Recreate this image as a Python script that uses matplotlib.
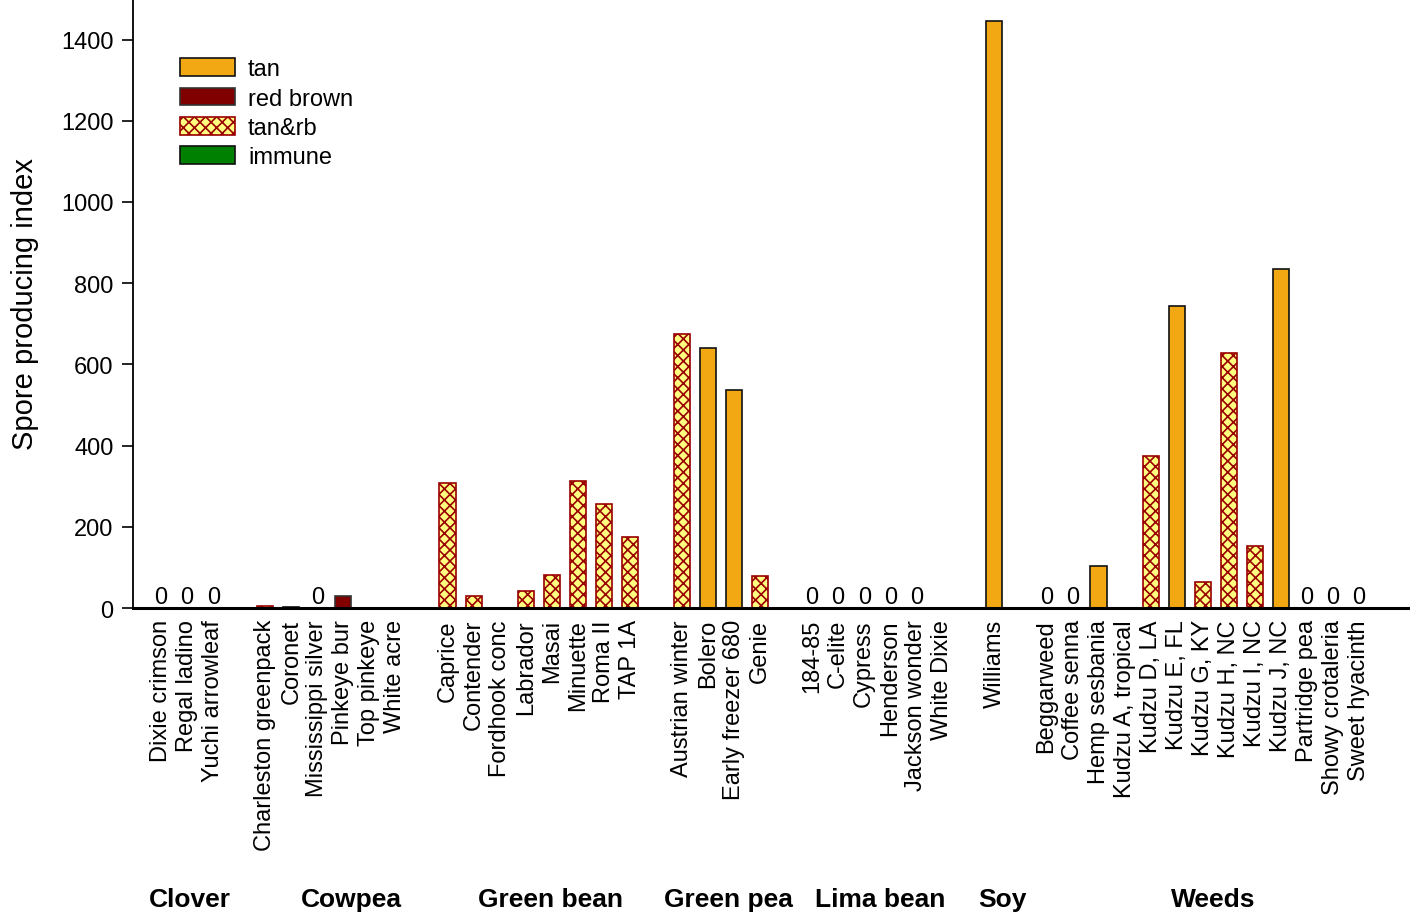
import numpy as np
import matplotlib
matplotlib.use("Agg")
import matplotlib.pyplot as plt
from matplotlib.patches import Patch
from matplotlib.transforms import blended_transform_factory

plt.rcParams['font.family'] = ['Liberation Sans', 'DejaVu Sans']
plt.rcParams['hatch.linewidth'] = 1.2

# ---------------- data ----------------
groups = ["Clover", "Cowpea", "Green bean", "Green pea", "Lima bean", "Soy", "Weeds"]

clover_names = ["Dixie crimson", "Regal ladino", "Yuchi arrowleaf"]
clover_vals = [0, 0, 0]
clover_type = ["zero", "zero", "zero"]

cowpea_names = ["Charleston greenpack", "Coronet", "Mississippi silver", "Pinkeye bur",
                "Top pinkeye", "White acre"]
cowpea_vals = [6, 2, 0, 30, np.nan, np.nan]
cowpea_type = ["tan&rb", "tan", "zero", "red brown", "none", "none"]

greenbean_names = ["Caprice", "Contender", "Fordhook conc", "Labrador", "Masai",
                   "Minuette", "Roma II", "TAP 1A"]
greenbean_vals = [309, 29, np.nan, 43, 81, 314, 256, 176]
greenbean_type = ["tan&rb", "tan&rb", "none", "tan&rb", "tan&rb", "tan&rb", "tan&rb", "tan&rb"]

greenpea_names = ["Austrian winter", "Bolero", "Early freezer 680", "Genie"]
greenpea_vals = [676, 640, 536, 79]
greenpea_type = ["tan&rb", "tan", "tan", "tan&rb"]

lima_names = ["184-85", "C-elite", "Cypress", "Henderson", "Jackson wonder", "White Dixie"]
lima_vals = [0, 0, 0, 0, 0, np.nan]
lima_type = ["zero", "zero", "zero", "zero", "zero", "none"]

soy_names = ["Williams"]
soy_vals = [1446]
soy_type = ["tan"]

weeds_names = ["Beggarweed", "Coffee senna", "Hemp sesbania", "Kudzu A, tropical",
               "Kudzu D, LA", "Kudzu E, FL", "Kudzu G, KY", "Kudzu H, NC",
               "Kudzu I, NC", "Kudzu J, NC", "Partridge pea", "Showy crotaleria",
               "Sweet hyacinth"]
weeds_vals = [0, 0, 103, np.nan, 374, 745, 64, 627, 152, 836, 0, 0, 0]
weeds_type = ["zero", "zero", "tan", "none", "tan&rb", "tan", "tan&rb", "tan&rb",
              "tan&rb", "tan", "zero", "zero", "zero"]

all_names = [clover_names, cowpea_names, greenbean_names, greenpea_names,
             lima_names, soy_names, weeds_names]
all_vals = [clover_vals, cowpea_vals, greenbean_vals, greenpea_vals,
            lima_vals, soy_vals, weeds_vals]
all_types = [clover_type, cowpea_type, greenbean_type, greenpea_type,
             lima_type, soy_type, weeds_type]

legend_labels = ["tan", "red brown", "tan&rb", "immune"]

# ---------------- styles ----------------
TAN = "#F2A812"
RB = "#800000"
HATCH_FACE = "#FFFF80"
HATCH_COL = "#990000"
GREEN = "#008000"

styles = {
    "tan": dict(facecolor=TAN, edgecolor="#111111", hatch=None),
    "red brown": dict(facecolor=RB, edgecolor="#333333", hatch=None),
    "tan&rb": dict(facecolor=HATCH_FACE, edgecolor=HATCH_COL, hatch="xxx"),
    "immune": dict(facecolor=GREEN, edgecolor="#111111", hatch=None),
}

fig = plt.figure(figsize=(14.1, 9.2), dpi=100)
ax = fig.add_axes([133/1410, 1 - 609/920, 1277/1410, 609/920])

FS = 17
xpos = []
xlabels = []
group_centers = []
pos = 0
for names, vals, types in zip(all_names, all_vals, all_types):
    start = pos
    for n, v, t in zip(names, vals, types):
        xpos.append(pos)
        xlabels.append(n)
        if t == "zero":
            ax.text(pos, 0, "0", ha="center", va="bottom", fontsize=FS,
                    transform=ax.transData)
        elif t in styles and not np.isnan(v):
            st = styles[t]
            ax.bar(pos, v, width=0.62, facecolor=st["facecolor"],
                   edgecolor=st["edgecolor"], hatch=st["hatch"], linewidth=1.2,
                   zorder=2)
        pos += 1
    group_centers.append((start + pos - 1) / 2)
    pos += 1  # gap between groups

ax.set_xlim(-1.08, 47.96)
ax.set_ylim(0, 1500)
ax.set_yticks(np.arange(0, 1401, 200))
ax.tick_params(axis="y", labelsize=FS, length=8, width=1.2, direction="out", pad=6)
ax.set_xticks(xpos)
ax.set_xticklabels(xlabels, rotation=90, fontsize=FS, va="top", ha="center")
ax.tick_params(axis="x", length=0, pad=8)

for s in ["top", "right"]:
    ax.spines[s].set_visible(False)
ax.spines["left"].set_linewidth(1.3)
ax.spines["bottom"].set_linewidth(2.2)
ax.spines["bottom"].set_zorder(5)

ax.set_ylabel("Spore producing index", fontsize=21, labelpad=16)

# group labels
offsets = [0.1, 0.8, 0.45, 0.3, 0.1, 0.3, 0.4]
trans = blended_transform_factory(ax.transData, ax.transAxes)
for g, c, o in zip(groups, group_centers, offsets):
    ax.text(c + o, -0.478, g, transform=trans, ha="center", va="center",
            fontsize=19, fontweight="bold")

# legend
handles = [Patch(facecolor=styles[k]["facecolor"], edgecolor=styles[k]["edgecolor"],
                 hatch=styles[k]["hatch"], linewidth=1.2) for k in legend_labels]
ax.legend(handles, legend_labels, loc="upper left", bbox_to_anchor=(0.0295, 0.918),
          frameon=False, fontsize=FS, handlelength=2.33, handleheight=0.76,
          labelspacing=0.31, handletextpad=0.55, borderaxespad=0)

fig.savefig("out.png", dpi=100)
